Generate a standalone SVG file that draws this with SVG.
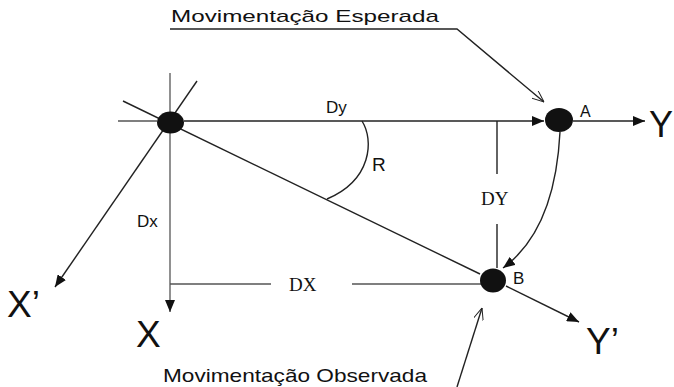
<svg xmlns="http://www.w3.org/2000/svg" width="674" height="387" viewBox="0 0 674 387">
<style>
.t{font-family:"Liberation Sans",Arial,sans-serif;fill:#111}
.s{font-family:"Liberation Serif","Times New Roman",serif;fill:#111}
.g{stroke:#555;stroke-width:1.3;fill:none}
.k{stroke:#222;stroke-width:1.4;fill:none}
.n{fill:#111}
</style>
<defs>
<marker id="fa" viewBox="0 0 12 10" refX="12" refY="5" markerWidth="12" markerHeight="10" markerUnits="userSpaceOnUse" orient="auto">
<path d="M0,0 L12,5 L0,10 Z" fill="#111"/>
</marker>
<marker id="oa" viewBox="0 0 12 10" refX="12" refY="5" markerWidth="12" markerHeight="10" markerUnits="userSpaceOnUse" orient="auto">
<path d="M0,0 L12,5 L0,10" fill="none" stroke="#222" stroke-width="1"/>
</marker>
</defs>
<g id="connectors">
<line class="g" x1="118" y1="121" x2="157" y2="121"/>
<line class="k" x1="184" y1="121" x2="544" y2="121" marker-end="url(#fa)"/>
<line class="k" x1="573" y1="121" x2="645" y2="121" marker-end="url(#fa)"/>
<line class="g" x1="170" y1="73" x2="170" y2="312" marker-end="url(#fa)"/>
<line class="k" x1="197" y1="81" x2="55" y2="287" marker-end="url(#fa)" stroke-width="1.1"/>
<line class="k" x1="123" y1="101" x2="480" y2="274" stroke-width="1.1"/>
<line class="k" x1="506" y1="286" x2="579" y2="322" marker-end="url(#fa)" stroke-width="1.1"/>
<line class="g" x1="170" y1="284" x2="271" y2="284"/>
<line class="g" x1="352" y1="284" x2="481" y2="284"/>
<line class="k" x1="497" y1="121" x2="497" y2="174" stroke-width="1.1"/>
<line class="k" x1="497" y1="224" x2="497" y2="268" stroke-width="1.1"/>
<path class="k" d="M362,121 C374,140 372,180 327,199" stroke-width="1.1"/>
<path class="k" d="M560,132 Q555,230 503,268" stroke-width="1.1" marker-end="url(#fa)"/>
<polyline class="k" points="170,29 457,29 544,102" stroke-width="1" marker-end="url(#oa)"/>
<line class="k" x1="457" y1="387" x2="482" y2="308" stroke-width="1" marker-end="url(#oa)"/>
</g>
<g id="node-origin"><ellipse class="n" cx="170.5" cy="122.5" rx="13.5" ry="11"/></g>
<g id="node-A"><ellipse class="n" cx="559" cy="120" rx="14" ry="12"/><text class="t" x="580" y="117" font-size="16">A</text></g>
<g id="node-B"><ellipse class="n" cx="493" cy="280.5" rx="13" ry="12"/><text class="t" x="513" y="284" font-size="17">B</text></g>
<g id="labels">
<text class="t" x="326" y="113" font-size="17">Dy</text>
<text class="t" x="372" y="171" font-size="19">R</text>
<text class="s" x="481" y="205" font-size="19">DY</text>
<text class="s" x="289" y="291" font-size="19">DX</text>
<text class="t" x="137" y="227" font-size="17">Dx</text>
<text class="t" x="649" y="137" font-size="36">Y</text>
<text class="t" x="586" y="354" font-size="37">Y’</text>
<text class="t" x="7" y="317" font-size="37">X’</text>
<text class="t" x="136" y="347" font-size="37">X</text>
<text class="t" x="171" y="22" font-size="17" textLength="268" lengthAdjust="spacingAndGlyphs">Movimentação Esperada</text>
<text class="t" x="163" y="382" font-size="19" textLength="264" lengthAdjust="spacingAndGlyphs">Movimentação Observada</text>
</g>
</svg>
